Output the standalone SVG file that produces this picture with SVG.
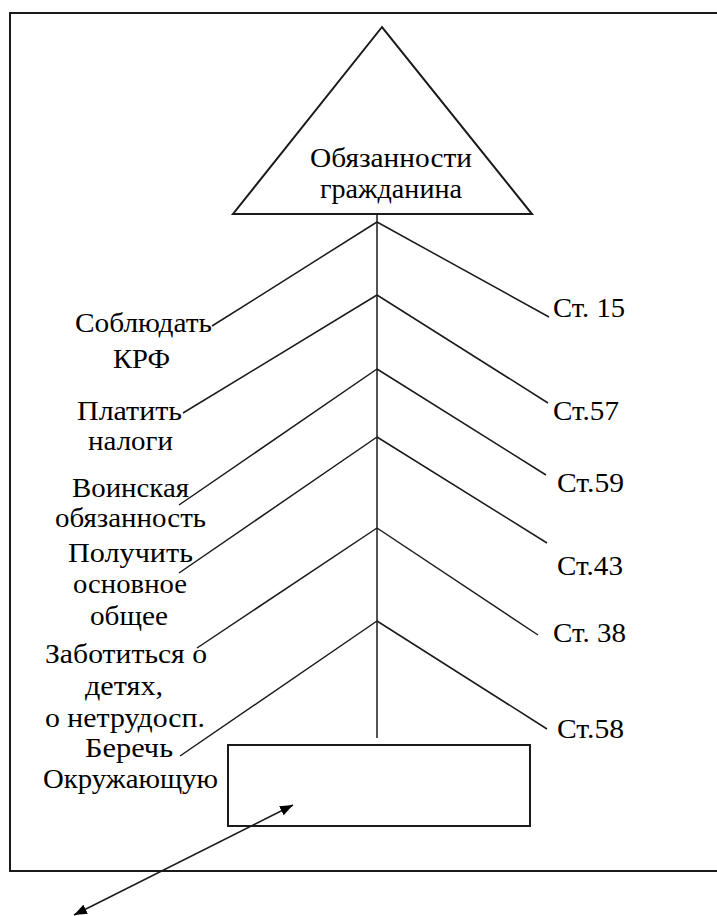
<svg xmlns="http://www.w3.org/2000/svg" width="717" height="916" viewBox="0 0 717 916">
<style>
  .ln{stroke:#1a1a1a;stroke-width:1.5;fill:none}
  .frame{stroke:#1a1a1a;stroke-width:2;fill:none}
  .shape{stroke:#1a1a1a;stroke-width:2;fill:#fff}
  .t{font-family:"Liberation Serif","Times New Roman",serif;font-size:28px;fill:#000}
</style>
<defs>
  <marker id="ah" viewBox="0 0 10 10" refX="10" refY="5" markerWidth="13" markerHeight="10" markerUnits="userSpaceOnUse" orient="auto-start-reverse" preserveAspectRatio="none">
    <path d="M0,0 L10,5 L0,10 z" fill="#000"/>
  </marker>
</defs>
<rect width="717" height="916" fill="#fff"/>
<g id="frame"><path class="frame" d="M720,13 H10 V871 H720"/></g>

<g id="title">
  <polygon class="shape" points="382,27 233,214 532,214"/>
  <text class="t" x="310" y="167" textLength="162" lengthAdjust="spacingAndGlyphs">Обязанности</text>
  <text class="t" x="320" y="198" textLength="142" lengthAdjust="spacingAndGlyphs">гражданина</text>
</g>

<g id="box"><rect class="shape" x="228" y="745" width="302" height="81"/></g>

<g id="connectors">
  <line class="ln" x1="377" y1="214" x2="377" y2="738"/>
  <line class="ln" x1="377" y1="222" x2="212" y2="326"/>
  <line class="ln" x1="377" y1="295" x2="183" y2="413"/>
  <line class="ln" x1="377" y1="369" x2="179" y2="505"/>
  <line class="ln" x1="377" y1="437" x2="179" y2="573"/>
  <line class="ln" x1="377" y1="528" x2="197" y2="648"/>
  <line class="ln" x1="377" y1="621" x2="180" y2="756"/>
  <line class="ln" x1="377" y1="222" x2="549" y2="317"/>
  <line class="ln" x1="377" y1="295" x2="548" y2="403"/>
  <line class="ln" x1="377" y1="369" x2="546" y2="475"/>
  <line class="ln" x1="377" y1="437" x2="547" y2="543"/>
  <line class="ln" x1="377" y1="528" x2="538" y2="635"/>
  <line class="ln" x1="377" y1="621" x2="547" y2="729"/>
  <line class="ln" x1="293" y1="805" x2="74" y2="915" marker-start="url(#ah)" marker-end="url(#ah)"/>
</g>

<g id="l1">
  <text class="t" x="75" y="332" textLength="137" lengthAdjust="spacingAndGlyphs">Соблюдать</text>
  <text class="t" x="113" y="368" textLength="57" lengthAdjust="spacingAndGlyphs">КРФ</text>
</g>
<g id="l2">
  <text class="t" x="77" y="420" textLength="105" lengthAdjust="spacingAndGlyphs">Платить</text>
  <text class="t" x="88" y="450" textLength="85" lengthAdjust="spacingAndGlyphs">налоги</text>
</g>
<g id="l3">
  <text class="t" x="72" y="497" textLength="117" lengthAdjust="spacingAndGlyphs">Воинская</text>
  <text class="t" x="55" y="527" textLength="151" lengthAdjust="spacingAndGlyphs">обязанность</text>
</g>
<g id="l4">
  <text class="t" x="68" y="562" textLength="125" lengthAdjust="spacingAndGlyphs">Получить</text>
  <text class="t" x="73" y="593" textLength="114" lengthAdjust="spacingAndGlyphs">основное</text>
  <text class="t" x="90" y="625" textLength="78" lengthAdjust="spacingAndGlyphs">общее</text>
</g>
<g id="l5">
  <text class="t" x="45" y="663" textLength="162" lengthAdjust="spacingAndGlyphs">Заботиться о</text>
  <text class="t" x="85" y="695" textLength="78" lengthAdjust="spacingAndGlyphs">детях,</text>
  <text class="t" x="45" y="727" textLength="160" lengthAdjust="spacingAndGlyphs">о нетрудосп.</text>
</g>
<g id="l6">
  <text class="t" x="85" y="757" textLength="88" lengthAdjust="spacingAndGlyphs">Беречь</text>
  <text class="t" x="43" y="788" textLength="175" lengthAdjust="spacingAndGlyphs">Окружающую</text>
</g>

<g id="r1"><text class="t" x="553" y="317" textLength="72" lengthAdjust="spacingAndGlyphs">Ст. 15</text></g>
<g id="r2"><text class="t" x="553" y="420" textLength="66" lengthAdjust="spacingAndGlyphs">Ст.57</text></g>
<g id="r3"><text class="t" x="557" y="492" textLength="67" lengthAdjust="spacingAndGlyphs">Ст.59</text></g>
<g id="r4"><text class="t" x="557" y="575" textLength="66" lengthAdjust="spacingAndGlyphs">Ст.43</text></g>
<g id="r5"><text class="t" x="553" y="642" textLength="73" lengthAdjust="spacingAndGlyphs">Ст. 38</text></g>
<g id="r6"><text class="t" x="557" y="738" textLength="67" lengthAdjust="spacingAndGlyphs">Ст.58</text></g>
</svg>
